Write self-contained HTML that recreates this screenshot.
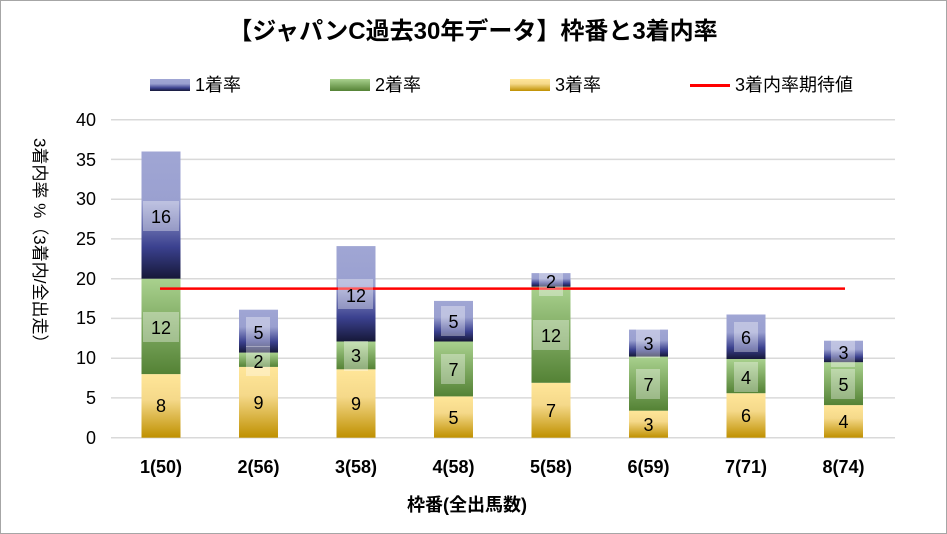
<!DOCTYPE html><html><head><meta charset="utf-8"><style>body{margin:0;background:#fff}svg{display:block}text{font-family:"Liberation Sans","Noto Sans CJK JP",sans-serif}</style></head><body>
<svg width="947" height="534" viewBox="0 0 947 534" xmlns="http://www.w3.org/2000/svg">
<defs>
<linearGradient id="b" x1="0" y1="0" x2="0" y2="1"><stop offset="0" stop-color="#a0a6d4"/><stop offset="0.4" stop-color="#9aa0d0"/><stop offset="0.75" stop-color="#3b418f"/><stop offset="1" stop-color="#161838"/></linearGradient>
<linearGradient id="g" x1="0" y1="0" x2="0" y2="1"><stop offset="0" stop-color="#a9d18e"/><stop offset="1" stop-color="#548235"/></linearGradient>
<linearGradient id="y" x1="0" y1="0" x2="0" y2="1"><stop offset="0" stop-color="#ffe699"/><stop offset="0.4" stop-color="#f5d98a"/><stop offset="1" stop-color="#bf9000"/></linearGradient>
</defs>
<rect x="0.5" y="0.5" width="946" height="533" fill="#fff" stroke="#a6a6a6"/>
<text x="473" y="39" font-size="24" font-weight="bold" text-anchor="middle">【ジャパンC過去30年データ】枠番と3着内率</text>
<g font-size="18">
<rect x="150" y="79" width="40" height="12" fill="url(#b)"/><text x="195" y="91">1着率</text>
<rect x="330" y="79" width="40" height="12" fill="url(#g)"/><text x="375" y="91">2着率</text>
<rect x="510" y="79" width="40" height="12" fill="url(#y)"/><text x="555" y="91">3着率</text>
<rect x="690" y="84" width="40" height="3" fill="#f00"/><text x="735" y="91">3着内率期待値</text>
</g>
<g stroke="#d9d9d9" stroke-width="1.5">
<line x1="111" x2="895" y1="119.7" y2="119.7"/><line x1="111" x2="895" y1="159.4" y2="159.4"/><line x1="111" x2="895" y1="199.2" y2="199.2"/><line x1="111" x2="895" y1="238.9" y2="238.9"/><line x1="111" x2="895" y1="278.7" y2="278.7"/><line x1="111" x2="895" y1="318.4" y2="318.4"/><line x1="111" x2="895" y1="358.2" y2="358.2"/><line x1="111" x2="895" y1="397.9" y2="397.9"/><line x1="111" x2="895" y1="437.7" y2="437.7"/>
</g>
<g font-size="18" text-anchor="end">
<text x="96" y="126">40</text><text x="96" y="166">35</text><text x="96" y="205">30</text><text x="96" y="245">25</text><text x="96" y="285">20</text><text x="96" y="324">15</text><text x="96" y="364">10</text><text x="96" y="404">5</text><text x="96" y="444">0</text>
</g>
<text transform="translate(34,138) rotate(90)" font-size="17">3着内率 %（3着内/全出走）</text>
<g>
<rect x="141.5" y="374.1" width="39" height="63.6" fill="url(#y)"/><rect x="141.5" y="278.7" width="39" height="95.4" fill="url(#g)"/><rect x="141.5" y="151.5" width="39" height="127.2" fill="url(#b)"/>
<rect x="239" y="366.9" width="39" height="70.8" fill="url(#y)"/><rect x="239" y="352.6" width="39" height="14.3" fill="url(#g)"/><rect x="239" y="309.7" width="39" height="42.9" fill="url(#b)"/>
<rect x="336.5" y="369.3" width="39" height="68.4" fill="url(#y)"/><rect x="336.5" y="341.5" width="39" height="27.8" fill="url(#g)"/><rect x="336.5" y="246.1" width="39" height="95.4" fill="url(#b)"/>
<rect x="434" y="396.4" width="39" height="41.3" fill="url(#y)"/><rect x="434" y="341.5" width="39" height="54.9" fill="url(#g)"/><rect x="434" y="300.9" width="39" height="40.6" fill="url(#b)"/>
<rect x="531.5" y="382.8" width="39" height="54.9" fill="url(#y)"/><rect x="531.5" y="286.7" width="39" height="96.1" fill="url(#g)"/><rect x="531.5" y="273.1" width="39" height="13.6" fill="url(#b)"/>
<rect x="629" y="410.7" width="39" height="27" fill="url(#y)"/><rect x="629" y="356.6" width="39" height="54.1" fill="url(#g)"/><rect x="629" y="329.6" width="39" height="27" fill="url(#b)"/>
<rect x="726.5" y="393.2" width="39" height="44.5" fill="url(#y)"/><rect x="726.5" y="359" width="39" height="34.2" fill="url(#g)"/><rect x="726.5" y="314.5" width="39" height="44.5" fill="url(#b)"/>
<rect x="824" y="405.1" width="39" height="32.6" fill="url(#y)"/><rect x="824" y="362.2" width="39" height="42.9" fill="url(#g)"/><rect x="824" y="340.7" width="39" height="21.5" fill="url(#b)"/>
</g>
<line x1="160" x2="845" y1="288.6" y2="288.6" stroke="#f00" stroke-width="2.5"/>
<g fill="#fff" fill-opacity="0.35">
<rect x="143" y="201" width="36" height="30"/><rect x="143" y="312" width="36" height="30"/>
<rect x="246" y="317" width="24" height="30"/><rect x="246" y="346" width="24" height="30"/>
<rect x="338" y="279" width="35" height="30"/><rect x="344" y="341" width="24" height="30"/>
<rect x="441" y="306" width="24" height="30"/><rect x="441" y="354" width="24" height="30"/>
<rect x="533" y="320" width="36" height="30"/><rect x="539" y="268" width="24" height="28"/>
<rect x="636" y="328" width="24" height="30"/><rect x="636" y="369" width="24" height="30"/>
<rect x="734" y="322" width="24" height="30"/><rect x="734" y="362" width="24" height="30"/>
<rect x="831" y="337" width="24" height="30"/><rect x="831" y="369" width="24" height="30"/>
</g>
<g font-size="18" text-anchor="middle">
<text x="161" y="223">16</text><text x="161" y="334">12</text><text x="161" y="412">8</text>
<text x="258.5" y="339">5</text><text x="258.5" y="368">2</text><text x="258.5" y="409">9</text>
<text x="356" y="302">12</text><text x="356" y="362">3</text><text x="356" y="410">9</text>
<text x="453.5" y="328">5</text><text x="453.5" y="376">7</text><text x="453.5" y="424">5</text>
<text x="551" y="342">12</text><text x="551" y="288">2</text><text x="551" y="417">7</text>
<text x="648.5" y="350">3</text><text x="648.5" y="391">7</text><text x="648.5" y="431">3</text>
<text x="746" y="344">6</text><text x="746" y="384">4</text><text x="746" y="422">6</text>
<text x="843.5" y="359">3</text><text x="843.5" y="391">5</text><text x="843.5" y="428">4</text>
</g>
<g font-size="18" font-weight="bold" text-anchor="middle">
<text x="161" y="473">1(50)</text><text x="258.5" y="473">2(56)</text><text x="356" y="473">3(58)</text><text x="453.5" y="473">4(58)</text><text x="551" y="473">5(58)</text><text x="648.5" y="473">6(59)</text><text x="746" y="473">7(71)</text><text x="843.5" y="473">8(74)</text>
</g>
<text x="467" y="511" font-size="18" font-weight="bold" text-anchor="middle">枠番(全出馬数)</text>
</svg>
</body></html>
